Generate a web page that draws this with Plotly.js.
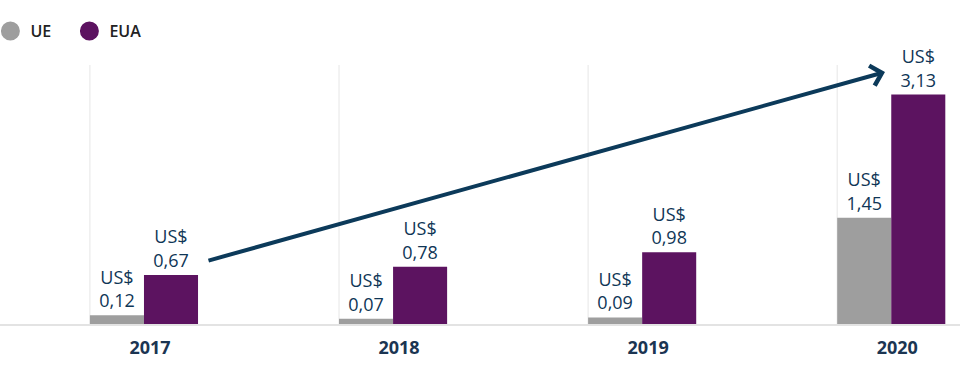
<!DOCTYPE html>
<html>
<head>
<meta charset="utf-8">
<script src="https://cdn.plot.ly/plotly-3.0.1.min.js"></script>
<style>html,body{margin:0;padding:0;background:#fff}#chart{width:960px;height:375px}</style>
</head>
<body>
<div id="chart"></div>
<script>
const years = ['2017', '2018', '2019', '2020'];
const ueValues = [0.12, 0.07, 0.09, 1.45];
const euaValues = [0.67, 0.78, 0.98, 3.13];
const seriesNames = ['UE', 'EUA'];

const GREY = '#9e9e9e';
const PURPLE = '#5c1360';
const NAVY = '#0f3656';

const textFont = {family: 'Open Sans', size: 18, color: NAVY, weight: 500};

const traces = [
  {
    type: 'bar', name: seriesNames[0], x: years, y: ueValues,
    marker: {color: GREY}, showlegend: false,
    texttemplate: 'US$<br>%{y:.2f}', textposition: 'outside',
    textfont: textFont, cliponaxis: false, hoverinfo: 'skip'
  },
  {
    type: 'bar', name: seriesNames[1], x: years, y: euaValues,
    marker: {color: PURPLE}, showlegend: false,
    texttemplate: 'US$<br>%{y:.2f}', textposition: 'outside',
    textfont: textFont, cliponaxis: false, hoverinfo: 'skip'
  },
  {
    type: 'scatter', mode: 'markers', name: seriesNames[0], x: [null], y: [null],
    marker: {symbol: 'circle', size: 16, color: GREY, line: {color: GREY, width: 3}}
  },
  {
    type: 'scatter', mode: 'markers', name: seriesNames[1], x: [null], y: [null],
    marker: {symbol: 'circle', size: 16, color: PURPLE, line: {color: PURPLE, width: 3}}
  }
];

const gridShapes = years.map((y, i) => ({
  type: 'line', xref: 'x', yref: 'paper',
  x0: i - 0.217, x1: i - 0.217, y0: 0, y1: 1,
  line: {color: '#e6e6e6', width: 1}, layer: 'below'
}));

const layout = {
  width: 960, height: 375,
  margin: {l: 0, r: 0, t: 65, b: 51, autoexpand: false},
  paper_bgcolor: '#ffffff', plot_bgcolor: '#ffffff',
  separators: ',.',
  barmode: 'group', bargap: 0.566, bargroupgap: 0,
  showlegend: true,
  legend: {
    orientation: 'h', x: -0.01, xanchor: 'left', y: 1.131, yanchor: 'middle',
    font: {family: 'Open Sans', size: 16, color: '#222222', weight: 600},
    entrywidth: 34, entrywidthmode: 'pixels', bgcolor: 'rgba(0,0,0,0)'
  },
  xaxis: {
    type: 'category', range: [-0.578, 3.276],
    showgrid: false, zeroline: false,
    showline: true, linecolor: '#e3e3e3', linewidth: 2,
    ticks: '', ticklabelshift: 6, ticklabelstandoff: 6,
    tickfont: {family: 'Open Sans', size: 18, color: '#1b3552', weight: 700},
    fixedrange: true
  },
  yaxis: {
    range: [0, 3.533], visible: false, showgrid: false, zeroline: false, fixedrange: true
  },
  shapes: gridShapes,
  annotations: [{
    xref: 'paper', yref: 'paper', x: 885 / 960, y: (324 - 72) / 259,
    axref: 'pixel', ayref: 'pixel', ax: -678, ay: 189,
    text: '', showarrow: true, arrowhead: 4, arrowsize: 1, arrowwidth: 4,
    arrowcolor: '#0c3a5a', standoff: 0
  }]
};

Plotly.newPlot('chart', traces, layout, {displayModeBar: false, staticPlot: true});
</script>
</body>
</html>
